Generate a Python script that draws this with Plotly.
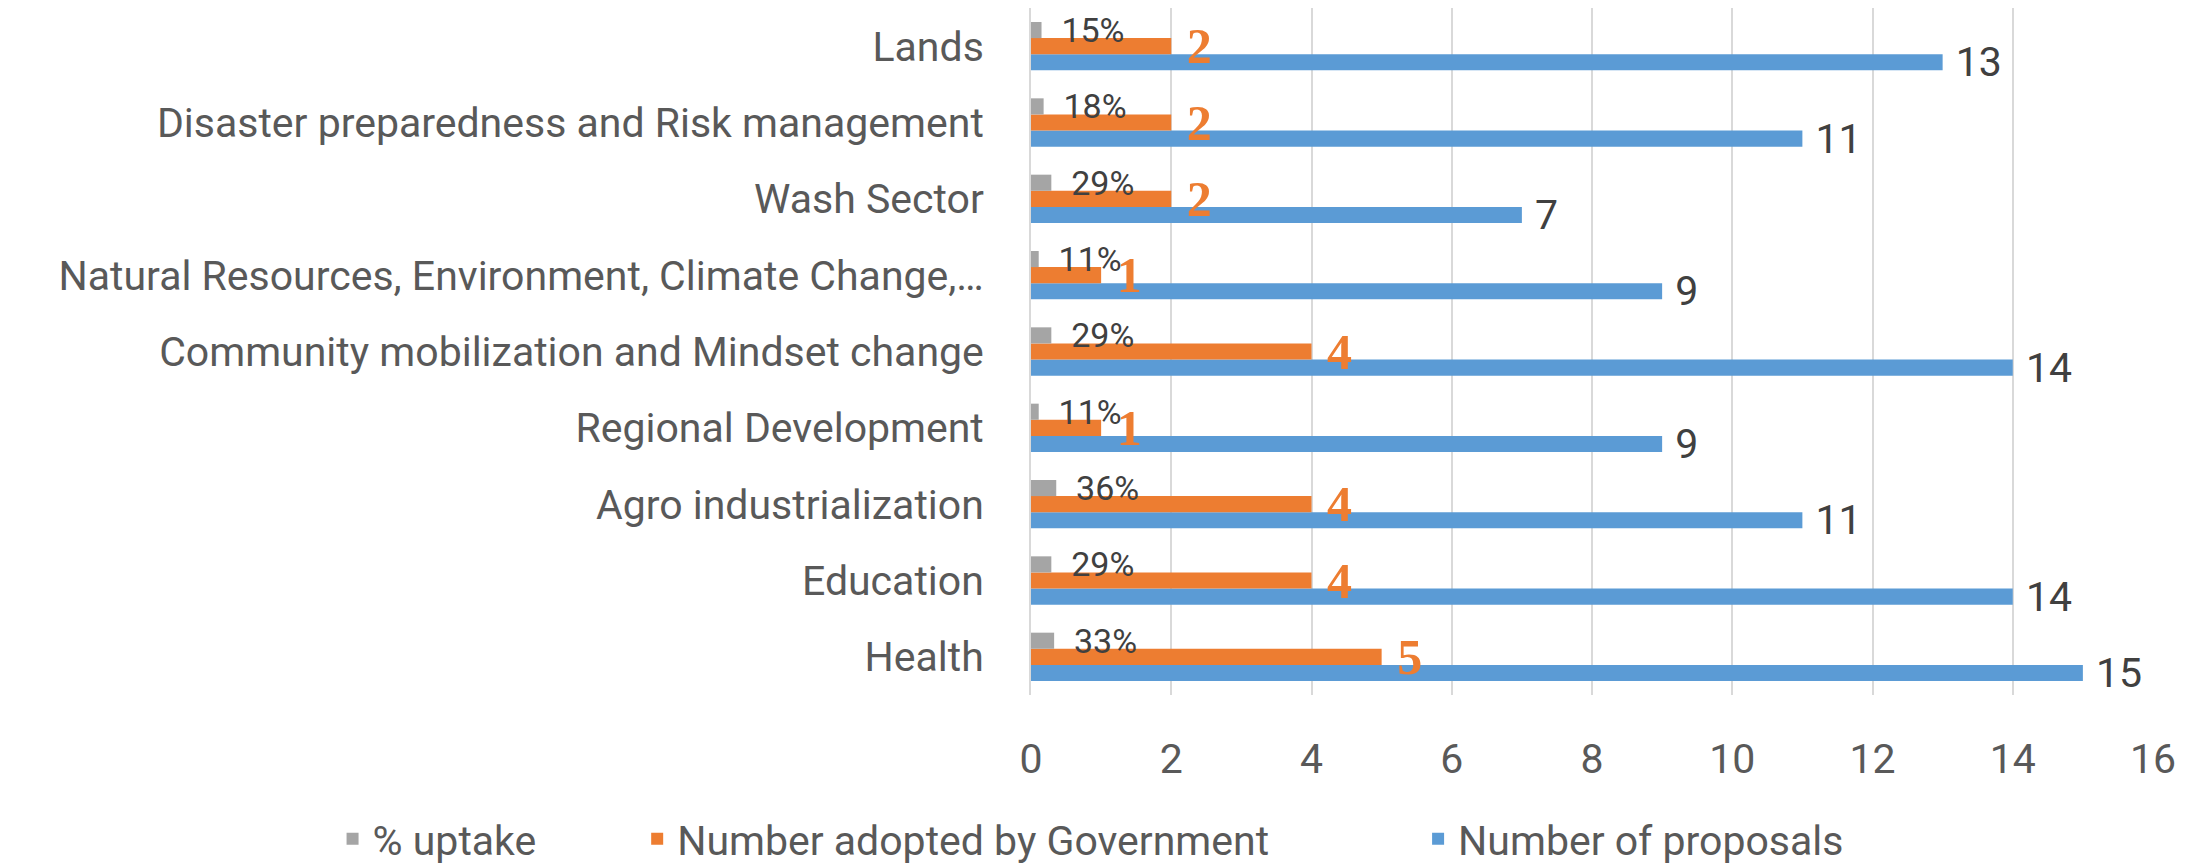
import plotly.graph_objects as go

categories = [
    "Lands",
    "Disaster preparedness and Risk management",
    "Wash Sector",
    "Natural Resources, Environment, Climate Change,…",
    "Community mobilization and Mindset change",
    "Regional Development",
    "Agro industrialization",
    "Education",
    "Health",
]
uptake_pct = [15, 18, 29, 11, 29, 11, 36, 29, 33]
adopted = [2, 2, 2, 1, 4, 1, 4, 4, 5]
proposals = [13, 11, 7, 9, 14, 9, 11, 14, 15]
x_ticks = [0, 2, 4, 6, 8, 10, 12, 14, 16]

GRAY = "#A5A5A5"
ORANGE = "#ED7D31"
BLUE = "#5B9BD5"
AXIS_TXT = "#595959"
LABEL_TXT = "#404040"
FONT = "Roboto"
NB = "\u00a0"

fig = go.Figure()
# drawn first -> lowest slot in each group
fig.add_trace(go.Bar(
    y=categories, x=proposals, orientation="h",
    name="Number of proposals", marker=dict(color=BLUE, line=dict(width=0)),
    text=[f"{NB}{v}" for v in proposals], textposition="outside",
    textangle=0, constraintext="none", cliponaxis=False,
    textfont=dict(family=FONT, size=41, color=LABEL_TXT), legend="legend3",
))
fig.add_trace(go.Bar(
    y=categories, x=adopted, orientation="h",
    name="Number adopted by Government", marker=dict(color=ORANGE, line=dict(width=0)),
    text=[f"{NB}{v}" for v in adopted], textposition="outside",
    textangle=0, constraintext="none", cliponaxis=False,
    textfont=dict(family="Liberation Serif", size=50, color=ORANGE, weight="bold"),
    legend="legend2",
))
fig.add_trace(go.Bar(
    y=categories, x=[v / 100 for v in uptake_pct], orientation="h",
    name="% uptake", marker=dict(color=GRAY, line=dict(width=0)),
    text=[f"{NB}{NB}{v}%" for v in uptake_pct], textposition="outside",
    textangle=0, constraintext="none", cliponaxis=False,
    textfont=dict(family=FONT, size=34, color=LABEL_TXT), legend="legend",
))

leg_common = dict(orientation="h", yanchor="middle", y=-0.2096, xanchor="left",
                  font=dict(family=FONT, size=41, color=AXIS_TXT),
                  bgcolor="rgba(0,0,0,0)", borderwidth=0)

fig.update_layout(
    width=2203, height=864,
    margin=dict(l=1031, r=50, t=8, b=169, pad=0, autoexpand=False),
    paper_bgcolor="white", plot_bgcolor="white",
    barmode="group", bargap=0.367, bargroupgap=0,
    font=dict(family=FONT, size=41, color=AXIS_TXT),
    xaxis=dict(range=[0, 16], tickvals=x_ticks, showgrid=True, gridcolor="#D9D9D9",
               gridwidth=2, zeroline=False, showline=False, ticks="",
               ticklabelstandoff=36, automargin=False,
               tickfont=dict(family=FONT, size=41, color=AXIS_TXT)),
    yaxis=dict(categoryorder="array", categoryarray=categories[::-1],
               showgrid=False, zeroline=False, automargin=False,
               showline=True, linecolor="#D9D9D9", linewidth=2, ticks="",
               ticklabelstandoff=37,
               tickfont=dict(family=FONT, size=41, color=AXIS_TXT)),
    legend=dict(x=-0.6225, **leg_common),
    legend2=dict(x=-0.351, **leg_common),
    legend3=dict(x=0.345, **leg_common),
    showlegend=True,
)

fig.write_html(
    "out.html",
    config={"displayModeBar": False},
    post_script="document.body.style.margin='0';document.body.style.overflow='hidden';",
)
